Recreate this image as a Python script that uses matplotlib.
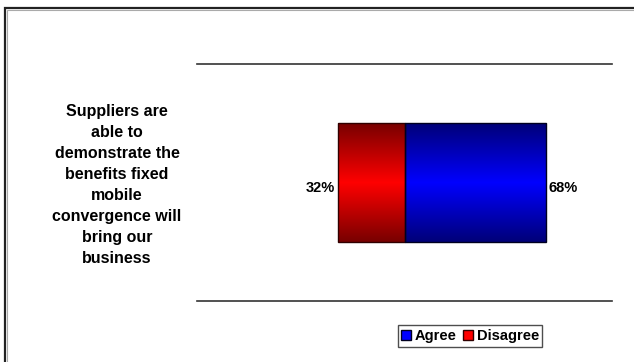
import matplotlib
matplotlib.use('Agg')
import matplotlib.pyplot as plt
from matplotlib.patches import Rectangle
from matplotlib.colors import LinearSegmentedColormap
import numpy as np

plt.rcParams['font.family'] = ['Liberation Sans', 'DejaVu Sans']

# data
question = 'Suppliers are\nable to\ndemonstrate the\nbenefits fixed\nmobile\nconvergence will\nbring our\nbusiness'
series = ['Agree', 'Disagree']
agree = [68]
disagree = [32]

fig = plt.figure(figsize=(6.34, 3.62), dpi=100)
fig.patch.set_facecolor('white')

# outer frame (only top and left edges visible)
fig.patches.append(Rectangle((5/634, -0.2), 1.2, 1.2 - 8/362, transform=fig.transFigure,
                             fill=False, edgecolor='#222222', linewidth=1.6))
fig.patches.append(Rectangle((6.5/634, -0.2), 1.2, 1.2 - 9.5/362, transform=fig.transFigure,
                             fill=False, edgecolor='#aaaaaa', linewidth=0.8))

ax = fig.add_axes([197/634, 1-301/362, 415/634, 237/362])

# diverging bar: disagree to the left of zero, agree to the right
b1 = ax.barh([0], [-v for v in disagree], height=1.0, color='none', edgecolor='#300000', linewidth=1.0, zorder=3)
b2 = ax.barh([0], agree, height=1.0, color='none', edgecolor='#000020', linewidth=1.0, zorder=3)

red_cm = LinearSegmentedColormap.from_list('r', ['#780000', '#ff0000', '#780000'])
blue_cm = LinearSegmentedColormap.from_list('b', ['#000078', '#0000ff', '#000078'])
grad = np.linspace(0, 1, 256).reshape(-1, 1)
for bars, cm in ((b1, red_cm), (b2, blue_cm)):
    for p in bars:
        x0 = p.get_x()
        x1 = x0 + p.get_width()
        y0 = p.get_y()
        y1 = y0 + p.get_height()
        ax.imshow(grad, cmap=cm, aspect='auto', extent=(min(x0, x1), max(x0, x1), y0, y1),
                  origin='lower', zorder=2)

ax.set_xlim(-100, 100)
ax.set_ylim(-1, 1)

for v in disagree:
    ax.text(-v - 1.5, -0.05, '%d%%' % v, ha='right', va='center', fontsize=10.5, fontweight='bold')
for v in agree:
    ax.text(v + 1.5, -0.05, '%d%%' % v, ha='left', va='center', fontsize=10.5, fontweight='bold')

ax.set_xticks([])
ax.set_yticks([])
for s in ['left', 'right']:
    ax.spines[s].set_visible(False)
for s in ['top', 'bottom']:
    ax.spines[s].set_color('#333333')
    ax.spines[s].set_linewidth(1.2)

fig.text(117/634, 1-185/362, question, ha='center', va='center', fontsize=11.5,
         fontweight='bold', linespacing=1.5)

handles = [Rectangle((0, 0), 1, 1, facecolor='#0000ff', edgecolor='#000020'),
           Rectangle((0, 0), 1, 1, facecolor='#ff0000', edgecolor='#300000')]
leg = fig.legend(handles, series, loc='center', bbox_to_anchor=(470/634, 1-336/362),
                 ncol=2, frameon=True, fancybox=False, prop={'weight': 'bold', 'size': 10.5},
                 handlelength=0.7, handleheight=0.7, handletextpad=0.25, columnspacing=0.4,
                 borderpad=0.25, borderaxespad=0)
leg.get_frame().set_edgecolor('#222222')
leg.get_frame().set_linewidth(1.0)

fig.savefig('out.png', dpi=100)
